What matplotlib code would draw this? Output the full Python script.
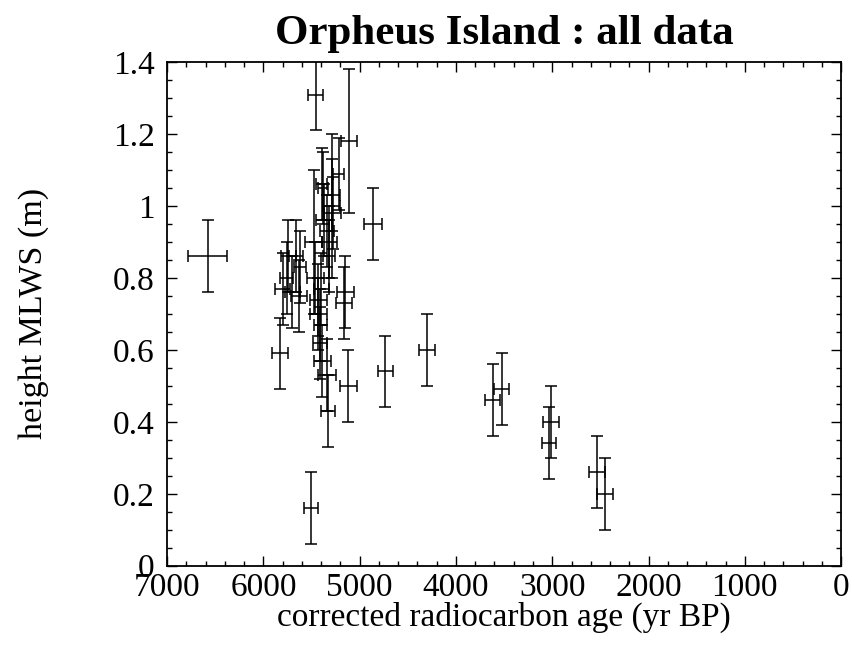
import matplotlib
matplotlib.use('Agg')
import matplotlib.pyplot as plt
from matplotlib.ticker import MultipleLocator

# corrected radiocarbon age (yr BP), height above MLWS (m) and their errors
ages = [6580, 5830, 5505, 5120, 4735, 4300, 4865, 5457, 5110,
        3620, 3525, 3015, 3035, 2535, 2455,
        5800, 5760, 5740, 5700, 5660, 5620, 5630, 5480, 5460, 5430,
        5430, 5410, 5400, 5415, 5390, 5340, 5330, 5395, 5290, 5290,
        5280, 5220, 5370, 5340, 5315, 5320, 5380, 5150, 5165]
heights = [0.86, 0.59, 0.16, 0.50, 0.54, 0.60, 0.95, 1.31, 1.18,
           0.46, 0.49, 0.40, 0.34, 0.26, 0.20,
           0.77, 0.80, 0.86, 0.76, 0.86, 0.83, 0.75, 0.90, 0.80, 0.74,
           0.70, 0.67, 0.77, 0.62, 0.57, 0.53, 0.43, 1.06, 1.03, 1.00,
           0.98, 1.09, 0.96, 0.93, 0.90, 0.86, 1.05, 0.76, 0.73]
age_err = [200, 85, 75, 90, 80, 85, 95, 80, 85,
           75, 80, 85, 70, 80, 85,
           80, 70, 75, 80, 70, 60, 80, 90, 90, 90,
           90, 70, 80, 70, 90, 90, 70, 60, 90, 90,
           90, 60, 80, 70, 80, 60, 50, 90, 80]
height_err = [0.1, 0.1, 0.1, 0.1, 0.1, 0.1, 0.1, 0.1, 0.2,
              0.1, 0.1, 0.1, 0.1, 0.1, 0.1,
              0.1, 0.1, 0.1, 0.1, 0.1, 0.1, 0.1, 0.2, 0.1, 0.1,
              0.1, 0.1, 0.1, 0.1, 0.1, 0.1, 0.1, 0.1, 0.1, 0.2,
              0.1, 0.1, 0.1, 0.1, 0.1, 0.1, 0.1, 0.1, 0.1]

plt.rcParams['font.family'] = ['Liberation Serif', 'DejaVu Serif']

fig = plt.figure(figsize=(8.53, 6.54), dpi=100)
ax = fig.add_axes([0.196, 0.135, 0.79, 0.77])

ax.errorbar(ages, heights, xerr=age_err, yerr=height_err,
            fmt='none', ecolor='black', elinewidth=1.1,
            capsize=4, capthick=1.1)

ax.set_xlim(7000, 0)
ax.set_ylim(0, 1.4)
ax.xaxis.set_major_locator(MultipleLocator(1000))
ax.xaxis.set_minor_locator(MultipleLocator(200))
ax.yaxis.set_minor_locator(MultipleLocator(0.05))
ax.set_yticks([0, 0.2, 0.4, 0.6, 0.8, 1.0, 1.2, 1.4])
ax.set_yticklabels(['0', '0.2', '0.4', '0.6', '0.8', '1', '1.2', '1.4'])

ax.tick_params(which='both', direction='in', top=True, right=True,
               labelsize=24, width=1.0)
ax.tick_params(which='major', length=7)
ax.tick_params(which='minor', length=3.5)
ax.tick_params(axis='x', which='major', pad=5)
ax.tick_params(axis='y', which='major', pad=9)
for s in ax.spines.values():
    s.set_linewidth(1.3)

ax.set_title('Orpheus Island : all data', fontsize=31, fontweight='bold', pad=13)
ax.set_xlabel('corrected radiocarbon age (yr BP)', fontsize=24, labelpad=-1)
ax.set_ylabel('height MLWS (m)', fontsize=24.5, labelpad=46)

fig.savefig('out.png', dpi=100)
